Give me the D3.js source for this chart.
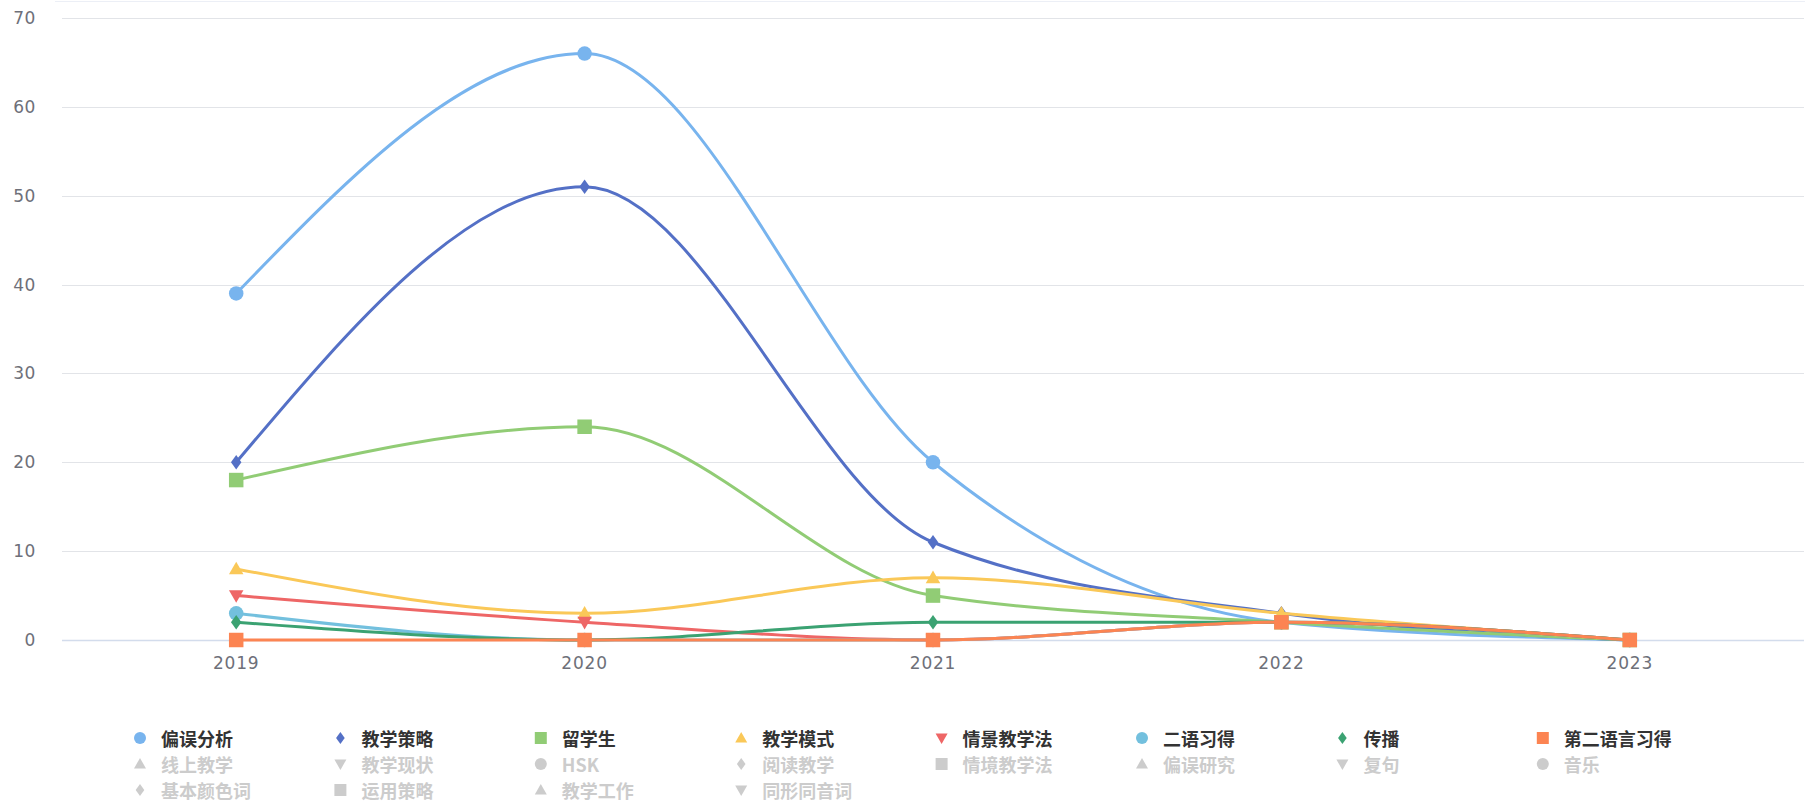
<!DOCTYPE html>
<html>
<head>
<meta charset="utf-8">
<script src="https://cdn.jsdelivr.net/npm/d3@7"></script>
<style>
  body { margin: 0; background: #fff; }
  svg { display: block; }
</style>
</head>
<body>
<svg id="chart"></svg>
<script>
const width = 1805;
const height = 803;

// data
const years = ["2019", "2020", "2021", "2022", "2023"];
const seriesNames = ["偏误分析", "教学策略", "留学生", "教学模式", "情景教学法", "二语习得", "传播", "第二语言习得"];
const seriesValues = [
    [39, 66, 20, 2, 0],
    [20, 51, 11, 3, 0],
    [18, 24, 5, 2, 0],
    [8, 3, 7, 3, 0],
    [5, 2, 0, 2, 0],
    [3, 0, 0, 2, 0],
    [2, 0, 2, 2, 0],
    [0, 0, 0, 2, 0]
];
const hiddenNames = ["线上教学", "教学现状", "HSK", "阅读教学", "情境教学法", "偏误研究", "复句", "音乐",
    "基本颜色词", "运用策略", "教学工作", "同形同音词"];
const yTicks = [0, 10, 20, 30, 40, 50, 60, 70];

const colors = ["#78b4ee", "#5470c6", "#91cc75", "#fac858", "#ee6666", "#73c0de", "#3ba272", "#fc8452"];
const shapes = ["circle", "diamond", "square", "triangle", "down"];

const margin = {left: 62, right: 1, top: 18, bottom: 163};

const svg = d3.select("#chart")
    .attr("width", width)
    .attr("height", height)
    .style("font-family", "'DejaVu Sans', sans-serif");

const x = d3.scaleBand()
    .domain(years)
    .range([margin.left, width - margin.right]);

const y = d3.scaleLinear()
    .domain([0, 70])
    .range([height - margin.bottom, margin.top]);

const cx = d => x(d) + x.bandwidth() / 2;

// symbol path of box size s
function symbol(type, s) {
    const h = s / 2;
    if (type === "circle") {
        return `M${-h},0A${h},${h} 0 1,0 ${h},0A${h},${h} 0 1,0 ${-h},0Z`;
    }
    if (type === "diamond") {
        const w = s * 0.36;
        return `M0,${-h}L${w},0L0,${h}L${-w},0Z`;
    }
    if (type === "square") {
        return `M${-h},${-h}H${h}V${h}H${-h}Z`;
    }
    if (type === "triangle") {
        return `M0,${-h}L${h},${h * 0.75}L${-h},${h * 0.75}Z`;
    }
    return `M0,${h}L${h},${-h * 0.75}L${-h},${-h * 0.75}Z`;
}

// faint top border
svg.append("line")
    .attr("x1", 55).attr("x2", width)
    .attr("y1", 1.5).attr("y2", 1.5)
    .attr("stroke", "#eceff6");

// grid
svg.append("g")
    .selectAll("line")
    .data(yTicks.filter(d => d > 0))
    .join("line")
    .attr("x1", margin.left)
    .attr("x2", width - margin.right)
    .attr("y1", d => Math.round(y(d)) + 0.5)
    .attr("y2", d => Math.round(y(d)) + 0.5)
    .attr("stroke", "#e2e4e8");

svg.append("line")
    .attr("x1", margin.left)
    .attr("x2", width - margin.right)
    .attr("y1", Math.round(y(0)) + 0.5)
    .attr("y2", Math.round(y(0)) + 0.5)
    .attr("stroke", "#d3dcec")
    .attr("stroke-width", 1.5);

// y labels
svg.append("g")
    .selectAll("text")
    .data(yTicks)
    .join("text")
    .attr("x", 36)
    .attr("y", d => y(d))
    .attr("text-anchor", "end")
    .attr("dominant-baseline", "central")
    .attr("fill", "#6e7079")
    .style("font-size", "17px")
    .style("letter-spacing", "0.6px")
    .text(d => d);

// x labels
svg.append("g")
    .selectAll("text")
    .data(years)
    .join("text")
    .attr("x", d => cx(d))
    .attr("y", 663)
    .attr("text-anchor", "middle")
    .attr("dominant-baseline", "central")
    .attr("fill", "#6e7079")
    .style("font-size", "17px")
    .style("letter-spacing", "0.8px")
    .text(d => d);

const line = d3.line()
    .x((d, i) => cx(years[i]))
    .y(d => y(d))
    .curve(d3.curveMonotoneX);

const lines = svg.append("g");

seriesValues.forEach((vals, si) => {
    const g = lines.append("g");
    g.append("path")
        .datum(vals)
        .attr("d", line)
        .attr("fill", "none")
        .attr("stroke", colors[si])
        .attr("stroke-width", 3);

    g.selectAll("path.pt")
        .data(vals)
        .join("path")
        .attr("class", "pt")
        .attr("transform", (d, i) => `translate(${cx(years[i])},${y(d)})`)
        .attr("d", symbol(shapes[si % 5], 14.5))
        .attr("fill", colors[si]);
});

// legend
const allNames = seriesNames.concat(hiddenNames);
const legend = svg.append("g")
    .style("font-family", "'Noto Sans CJK SC', sans-serif")
    .style("font-weight", "bold")
    .style("font-size", "18px");

const item = legend.selectAll("g")
    .data(allNames)
    .join("g")
    .attr("transform", (d, i) => `translate(${140 + (i % 8) * 200.4},${738 + Math.floor(i / 8) * 26})`);

item.append("path")
    .attr("d", (d, i) => symbol(shapes[i % 5], 12))
    .attr("fill", (d, i) => i < seriesNames.length ? colors[i] : "#cccccc");

item.append("text")
    .attr("x", 21)
    .attr("dominant-baseline", "central")
    .attr("fill", (d, i) => i < seriesNames.length ? "#333333" : "#cccccc")
    .text(d => d);
</script>
</body>
</html>
